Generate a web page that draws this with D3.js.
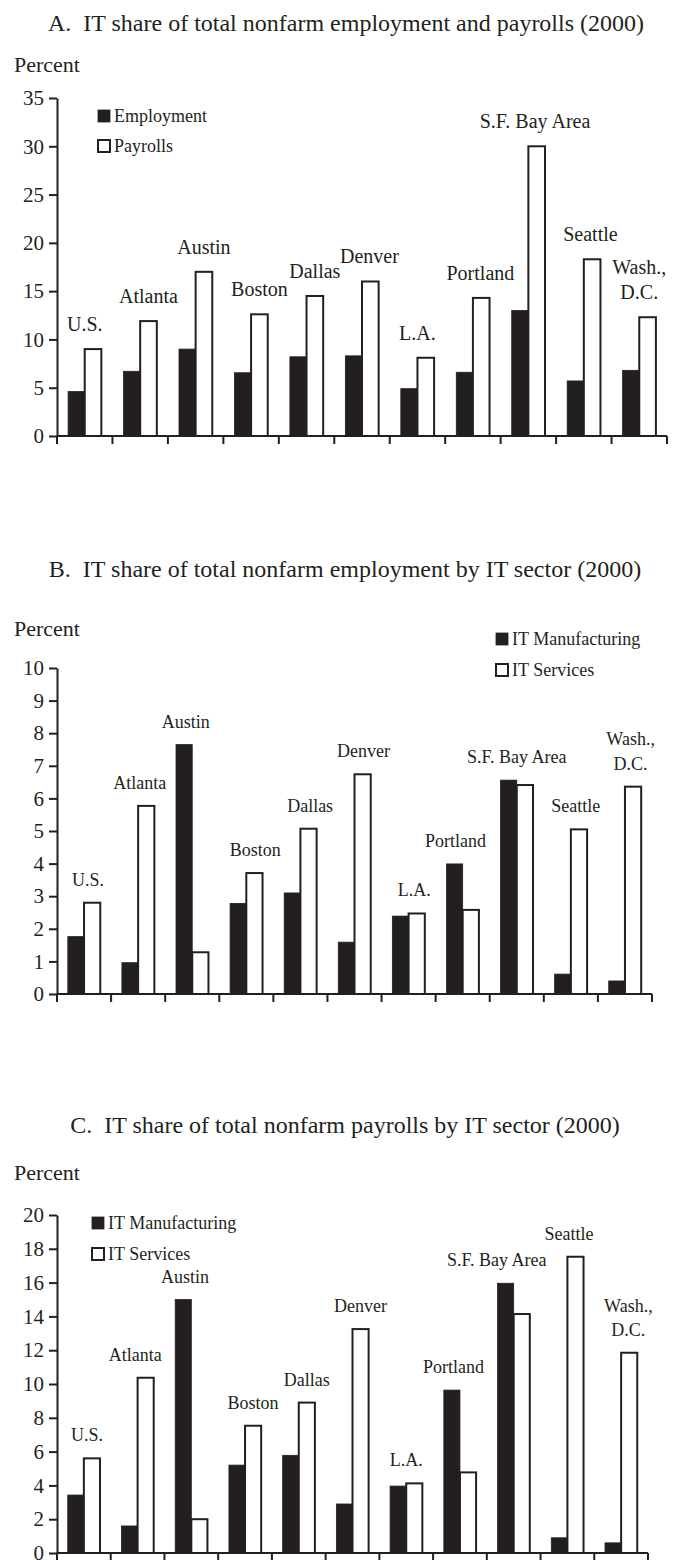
<!DOCTYPE html>
<html>
<head>
<meta charset="utf-8">
<script src="https://cdn.jsdelivr.net/npm/d3@7"></script>
<style>
  html, body { margin: 0; padding: 0; background: #fff; }
  svg { display: block; }
  text { font-family: "Liberation Serif", "Times New Roman", Times, serif; fill: #231f20; }
</style>
</head>
<body>
<svg id="chart" width="684" height="1560"></svg>
<script>
// ---------- data ----------
const categories = ["U.S.", "Atlanta", "Austin", "Boston", "Dallas", "Denver", "L.A.", "Portland", "S.F. Bay Area", "Seattle", "Wash., D.C."];

// Panel A
const titleA = "A.  IT share of total nonfarm employment and payrolls (2000)";
const seriesA = ["Employment", "Payrolls"];
const employmentA = [4.6, 6.7, 9.0, 6.55, 8.2, 8.3, 4.9, 6.6, 13.0, 5.7, 6.8];
const payrollsA = [9.0, 11.9, 17.0, 12.6, 14.5, 16.0, 8.1, 14.3, 30.0, 18.3, 12.3];
const ticksA = [0, 5, 10, 15, 20, 25, 30, 35];

// Panel B
const titleB = "B.  IT share of total nonfarm employment by IT sector (2000)";
const seriesB = ["IT Manufacturing", "IT Services"];
const manufacturingB = [1.76, 0.96, 7.65, 2.78, 3.1, 1.59, 2.39, 3.99, 6.56, 0.61, 0.4];
const servicesB = [2.8, 5.77, 1.28, 3.71, 5.07, 6.74, 2.47, 2.58, 6.41, 5.05, 6.36];
const ticksB = [0, 1, 2, 3, 4, 5, 6, 7, 8, 9, 10];

// Panel C
const titleC = "C.  IT share of total nonfarm payrolls by IT sector (2000)";
const seriesC = ["IT Manufacturing", "IT Services"];
const manufacturingC = [3.43, 1.6, 15.0, 5.2, 5.78, 2.9, 3.96, 9.64, 15.96, 0.9, 0.6];
const servicesC = [5.6, 10.37, 2.0, 7.53, 8.9, 13.25, 4.12, 4.77, 14.14, 17.53, 11.85];
const ticksC = [0, 2, 4, 6, 8, 10, 12, 14, 16, 18, 20];

const yLabel = "Percent";

// ---------- layout (label placement, in bar widths from group centre) ----------
const labelShiftA = [0, 0.5, 0.5, 0.5, 0.5, 0.45, 0, 0.45, 0.4, 0.4, 0];
const labelShiftB = [0.25, 0.1, -0.4, 0.55, 0.6, 0.55, 0.35, -0.45, 0, 0.3, 0.35];
const labelShiftC = [0.2, -0.15, -0.4, 0.5, 0.5, 0.5, 0, -0.4, -1.05, 0.1, 0.45];

// ---------- drawing ----------
const ink = "#231f20";
const svg = d3.select("#chart");

function drawPanel(p) {
  const g = svg.append("g");

  g.append("text")
    .attr("x", p.titleX).attr("y", p.titleY)
    .attr("text-anchor", "middle")
    .style("font-size", p.titleSize + "px")
    .style("white-space", "pre")
    .text(p.title);

  g.append("text")
    .attr("x", 14).attr("y", p.percentY)
    .style("font-size", "22px")
    .text(yLabel);

  const x = d3.scaleBand().domain(categories).range([p.x0, p.x1]).paddingInner(0).paddingOuter(0);
  const bw = x.bandwidth();
  const xs = d3.scaleBand().domain([0, 1]).range([bw * 0.2, bw * 0.8]);
  const y = d3.scaleLinear().domain([0, p.ticks[p.ticks.length - 1]]).range([p.y0, p.y1]);

  const rows = categories.map((c, i) => ({ c, i, v: [p.s0[i], p.s1[i]] }));

  const grp = g.selectAll("g.cat").data(rows).join("g")
    .attr("class", "cat")
    .attr("transform", d => `translate(${x(d.c)},0)`);

  grp.selectAll("rect").data(d => d.v.map((v, k) => ({ v, k }))).join("rect")
    .attr("x", d => xs(d.k))
    .attr("width", xs.bandwidth())
    .attr("y", d => y(d.v))
    .attr("height", d => y(0) - y(d.v))
    .attr("fill", d => d.k === 0 ? ink : "#fff")
    .attr("stroke", ink)
    .attr("stroke-width", d => d.k === 0 ? 0.8 : 2);

  // category labels above the taller bar
  grp.each(function (d) {
    const top = y(Math.max(d.v[0], d.v[1])) - p.labelGap;
    const cx = bw / 2 + p.shift[d.i] * xs.bandwidth();
    const lines = d.c === "Wash., D.C." ? ["Wash.,", "D.C."] : [d.c];
    lines.forEach((ln, li) => {
      d3.select(this).append("text")
        .attr("x", cx)
        .attr("y", top - (lines.length - 1 - li) * p.lineH)
        .attr("text-anchor", "middle")
        .style("font-size", p.labelSize + "px")
        .text(ln);
    });
  });

  // y axis
  const yAxis = d3.axisLeft(y).tickValues(p.ticks).tickSize(8).tickSizeOuter(0).tickPadding(5);
  const ya = g.append("g").attr("transform", `translate(${p.x0},0)`).call(yAxis);
  ya.select(".domain").attr("stroke", ink).attr("stroke-width", 2);
  ya.selectAll(".tick line").attr("stroke", ink).attr("stroke-width", 2);
  ya.selectAll(".tick text").style("font-size", p.tickSize + "px")
    .style("font-family", '"Liberation Serif", "Times New Roman", serif').attr("fill", ink);

  // x axis baseline + boundary ticks
  const bounds = categories.map(c => x(c)).concat([p.x1]);
  g.append("line").attr("x1", p.x0).attr("x2", p.x1).attr("y1", y(0)).attr("y2", y(0))
    .attr("stroke", ink).attr("stroke-width", 2);
  g.selectAll("line.xt").data(bounds).join("line").attr("class", "xt")
    .attr("x1", d => d).attr("x2", d => d)
    .attr("y1", y(0)).attr("y2", y(0) + 8)
    .attr("stroke", ink).attr("stroke-width", 2);

  // legend
  p.series.forEach((s, k) => {
    const cy = p.legY + k * p.legStep;
    g.append("rect")
      .attr("x", p.legX).attr("y", cy - 6).attr("width", 12).attr("height", 12)
      .attr("fill", k === 0 ? ink : "#fff")
      .attr("stroke", ink).attr("stroke-width", k === 0 ? 0.8 : 2);
    g.append("text")
      .attr("x", p.legX + 16).attr("y", cy + 6)
      .style("font-size", p.legSize + "px")
      .text(s);
  });
}

drawPanel({
  title: titleA, titleX: 346, titleY: 31, titleSize: 24, percentY: 72,
  x0: 57, x1: 667, y0: 436, y1: 98, ticks: ticksA, tickSize: 21,
  s0: employmentA, s1: payrollsA, series: seriesA, shift: labelShiftA,
  labelGap: 18, labelSize: 20, lineH: 25,
  legX: 98, legY: 116, legStep: 30, legSize: 18
});

drawPanel({
  title: titleB, titleX: 345, titleY: 577, titleSize: 24, percentY: 636,
  x0: 57, x1: 652, y0: 994, y1: 668, ticks: ticksB, tickSize: 21,
  s0: manufacturingB, s1: servicesB, series: seriesB, shift: labelShiftB,
  labelGap: 17, labelSize: 18, lineH: 25,
  legX: 496, legY: 639, legStep: 31, legSize: 18
});

drawPanel({
  title: titleC, titleX: 345, titleY: 1133, titleSize: 24, percentY: 1180,
  x0: 57, x1: 648, y0: 1553, y1: 1215, ticks: ticksC, tickSize: 21,
  s0: manufacturingC, s1: servicesC, series: seriesC, shift: labelShiftC,
  labelGap: 17, labelSize: 18, lineH: 24,
  legX: 92, legY: 1223, legStep: 31, legSize: 18
});
</script>
</body>
</html>
